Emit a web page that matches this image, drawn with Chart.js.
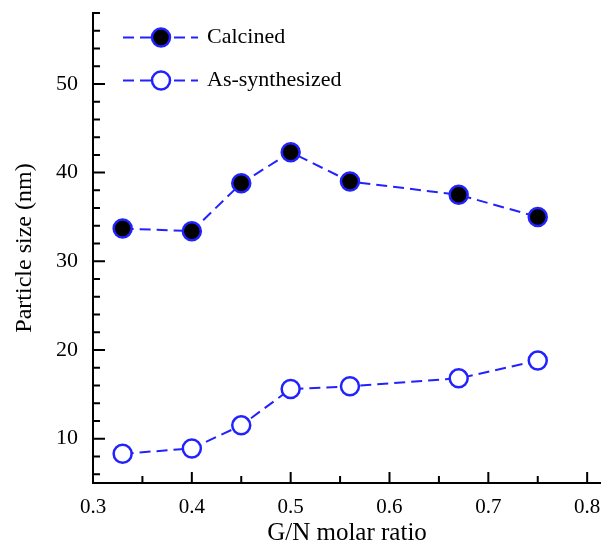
<!DOCTYPE html>
<html>
<head>
<meta charset="utf-8">
<script src="https://cdn.jsdelivr.net/npm/chart.js@4"></script>
<style>
  html, body { margin: 0; padding: 0; background: #fff; }
  #wrap { width: 601px; height: 548px; }
</style>
</head>
<body>
<div id="wrap"><canvas id="sizeChart" width="601" height="548"></canvas></div>
<script>
// G/N molar ratio
const ratio = [0.33, 0.40, 0.45, 0.50, 0.56, 0.67, 0.75];
// particle size (nm)
const calcined = [33.7, 33.4, 38.8, 42.3, 39.0, 37.5, 35.0];
const asSynth = [8.3, 8.9, 11.5, 15.6, 15.9, 16.8, 18.8];
const seriesNames = ["Calcined", "As-synthesized"];

// tick labels (major) dan tick kecil
const xLabels = [0.3, 0.4, 0.5, 0.6, 0.7, 0.8];
const xMinor = [0.35, 0.45, 0.55, 0.65, 0.75];
const yLabels = [10, 20, 30, 40, 50];
const yMinor = [6, 8, 12, 14, 16, 18, 22, 24, 26, 28, 32, 34, 36, 38, 42, 44, 46, 48, 52, 54, 56, 58];

const serif = "'Liberation Serif', 'Times New Roman', serif";
const lineBlue = "#2222ff";

function toPoints(ys) {
    return ratio.map((r, i) => ({ x: r, y: ys[i] }));
}

function buildTicks(major, minor) {
    return major.concat(minor).sort((a, b) => a - b).map((v) => ({ value: v }));
}

// tick ke dalam + legend buatan sendiri
const insideTicks = {
    id: "insideTicks",
    afterDraw(chart) {
        const { ctx, chartArea } = chart;
        const x = chart.scales.x, y = chart.scales.y;
        ctx.save();
        ctx.strokeStyle = "#000";
        ctx.lineWidth = 2;
        ctx.beginPath();
        x.ticks.forEach((t) => {
            const px = x.getPixelForValue(t.value);
            const len = xLabels.includes(t.value) ? 11 : 7;
            ctx.moveTo(px, chartArea.bottom);
            ctx.lineTo(px, chartArea.bottom - len);
        });
        y.ticks.forEach((t) => {
            const py = y.getPixelForValue(t.value);
            const len = yLabels.includes(t.value) ? 12 : 7;
            ctx.moveTo(chartArea.left, py);
            ctx.lineTo(chartArea.left + len, py);
        });
        ctx.stroke();

        // legend
        const rows = [37.5, 80.5];
        chart.data.datasets.forEach((ds, i) => {
            const ly = rows[i];
            ctx.beginPath();
            ctx.setLineDash(ds.borderDash);
            ctx.strokeStyle = ds.borderColor;
            ctx.lineWidth = ds.borderWidth;
            ctx.moveTo(123, ly);
            ctx.lineTo(198, ly);
            ctx.stroke();
            ctx.setLineDash([]);
            ctx.beginPath();
            ctx.arc(161, ly, ds.pointRadius, 0, Math.PI * 2);
            ctx.fillStyle = ds.pointBackgroundColor;
            ctx.fill();
            ctx.lineWidth = ds.pointBorderWidth;
            ctx.strokeStyle = ds.pointBorderColor;
            ctx.stroke();
            ctx.fillStyle = "#000";
            ctx.font = "22px " + serif;
            ctx.textBaseline = "middle";
            ctx.fillText(ds.label, 207, ly);
        });
        ctx.restore();
    }
};

function noPadding(scale) {
    scale.paddingTop = 0;
    scale.paddingBottom = 0;
    scale.paddingLeft = 0;
    scale.paddingRight = 0;
}

new Chart(document.getElementById("sizeChart"), {
    type: "line",
    data: {
        datasets: [
            {
                label: seriesNames[0],
                data: toPoints(calcined),
                borderColor: lineBlue,
                borderWidth: 2,
                borderDash: [11, 6],
                pointRadius: 9,
                pointBackgroundColor: "#000",
                pointBorderColor: lineBlue,
                pointBorderWidth: 2.5
            },
            {
                label: seriesNames[1],
                data: toPoints(asSynth),
                borderColor: lineBlue,
                borderWidth: 2,
                borderDash: [11, 6],
                pointRadius: 9,
                pointBackgroundColor: "#fff",
                pointBorderColor: lineBlue,
                pointBorderWidth: 2.5
            }
        ]
    },
    options: {
        responsive: false,
        animation: false,
        layout: { autoPadding: false, padding: { top: 13, right: 0, bottom: 0, left: 0 } },
        plugins: {
            legend: { display: false },
            tooltip: { enabled: false }
        },
        scales: {
            x: {
                type: "linear",
                min: 0.3,
                max: 0.814,
                afterBuildTicks: (scale) => { scale.ticks = buildTicks(xLabels, xMinor); },
                afterFit: (scale) => { scale.height = 65; noPadding(scale); },
                grid: { display: false, drawTicks: false },
                border: { display: true, color: "#000", width: 2 },
                ticks: {
                    padding: 12,
                    color: "#000",
                    font: { family: serif, size: 21 },
                    maxRotation: 0,
                    autoSkip: false,
                    callback: (v) => (xLabels.includes(v) ? v.toFixed(1) : "")
                },
                title: {
                    display: true,
                    text: "G/N molar ratio",
                    color: "#000",
                    font: { family: serif, size: 25 },
                    padding: { top: 3, bottom: 0 }
                }
            },
            y: {
                min: 5,
                max: 58,
                afterBuildTicks: (scale) => { scale.ticks = buildTicks(yLabels, yMinor); },
                afterFit: (scale) => { scale.width = 93; noPadding(scale); },
                grid: { display: false, drawTicks: false },
                border: { display: true, color: "#000", width: 2 },
                ticks: {
                    padding: 15,
                    color: "#000",
                    font: { family: serif, size: 22 },
                    autoSkip: false,
                    callback: (v) => (yLabels.includes(v) ? String(v) : "")
                },
                title: {
                    display: true,
                    text: "Particle size (nm)",
                    color: "#000",
                    font: { family: serif, size: 24 },
                    padding: { top: 10, bottom: 0 }
                }
            }
        }
    },
    plugins: [insideTicks]
});
</script>
</body>
</html>
